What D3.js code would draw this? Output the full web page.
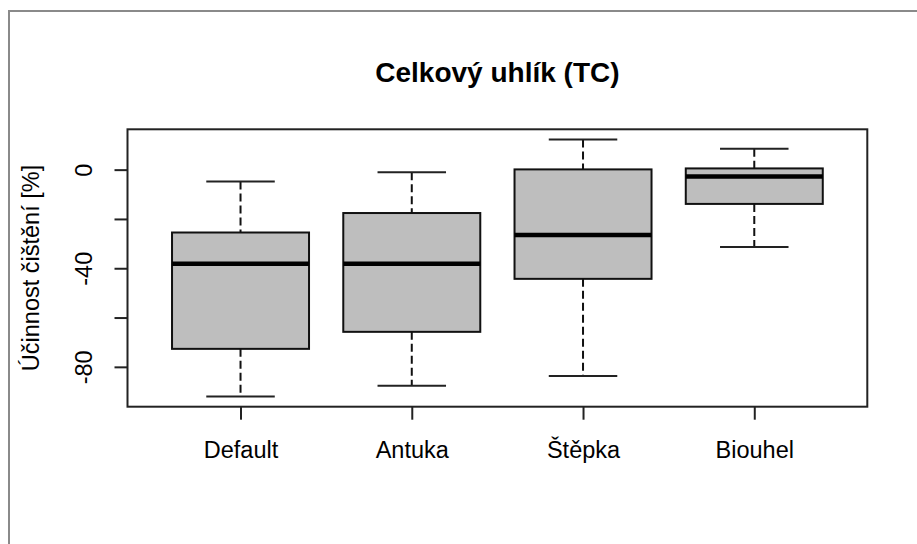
<!DOCTYPE html>
<html>
<head>
<meta charset="utf-8">
<script src="https://cdn.jsdelivr.net/npm/d3@7"></script>
<style>
  html, body { margin: 0; padding: 0; background: #fff; }
  svg { display: block; }
  text { font-family: "Liberation Sans", Arial, sans-serif; fill: #000; }
</style>
</head>
<body>
<svg id="chart" width="917" height="544"></svg>
<script>
// ---- data ----
const categories = ["Default", "Antuka", "Štěpka", "Biouhel"];
const whiskerLow  = [-92.0, -87.7, -83.7, -31.4];
const q1          = [-72.7, -65.8, -44.3, -13.9];
const medians     = [-38.2, -38.2, -26.5,  -2.8];
const q3          = [-25.5, -17.6,   0.1,   0.5];
const whiskerHigh = [ -4.8,  -1.1,  12.2,   8.5];
const yTicks      = [-80, -60, -40, -20, 0];
const yTickLabels = ["-80", "", "-40", "", "0"];
const titleText   = "Celkový uhlík (TC)";
const yTitleText  = "Účinnost čištění [%]";

const svg = d3.select("#chart");

// plot region
const L = 127.5, R = 867.3, T = 129.3, B = 406.7;

// outer figure frame (top and left only visible)
svg.append("path")
  .attr("d", "M9,544 L9,11 L917,11")
  .attr("fill", "none").attr("stroke", "#8a8a8a").attr("stroke-width", 2);

// scales (R style: 4% range extension)
const n = categories.length;
const xPad = 0.04 * n;
const x = d3.scaleLinear().domain([0.5 - xPad, n + 0.5 + xPad]).range([L, R]);
const yMin = d3.min(whiskerLow), yMax = d3.max(whiskerHigh);
const yPad = 0.04 * (yMax - yMin);
const y = d3.scaleLinear().domain([yMin - yPad, yMax + yPad]).range([B, T]);

const boxW = 0.8, capW = 0.4;
const data = categories.map((c, i) => ({
  c, i: i + 1, lo: whiskerLow[i], q1: q1[i], med: medians[i], q3: q3[i], hi: whiskerHigh[i]
}));

const g = svg.append("g");
const boxes = g.selectAll("g.box").data(data).join("g").attr("class", "box");

// whiskers (dashed)
boxes.append("line")
  .attr("x1", d => x(d.i)).attr("x2", d => x(d.i))
  .attr("y1", d => y(d.hi)).attr("y2", d => y(d.q3))
  .attr("stroke", "#111").attr("stroke-width", 2).attr("stroke-dasharray", "8,4");
boxes.append("line")
  .attr("x1", d => x(d.i)).attr("x2", d => x(d.i))
  .attr("y1", d => y(d.q1)).attr("y2", d => y(d.lo))
  .attr("stroke", "#111").attr("stroke-width", 2).attr("stroke-dasharray", "8,4");
// caps
boxes.append("line")
  .attr("x1", d => x(d.i - capW / 2)).attr("x2", d => x(d.i + capW / 2))
  .attr("y1", d => y(d.hi)).attr("y2", d => y(d.hi))
  .attr("stroke", "#222").attr("stroke-width", 2);
boxes.append("line")
  .attr("x1", d => x(d.i - capW / 2)).attr("x2", d => x(d.i + capW / 2))
  .attr("y1", d => y(d.lo)).attr("y2", d => y(d.lo))
  .attr("stroke", "#222").attr("stroke-width", 2);
// box
boxes.append("rect")
  .attr("x", d => x(d.i - boxW / 2))
  .attr("width", d => x(d.i + boxW / 2) - x(d.i - boxW / 2))
  .attr("y", d => y(d.q3))
  .attr("height", d => y(d.q1) - y(d.q3))
  .attr("fill", "#bebebe").attr("stroke", "#111").attr("stroke-width", 2);
// median
boxes.append("line")
  .attr("x1", d => x(d.i - boxW / 2)).attr("x2", d => x(d.i + boxW / 2))
  .attr("y1", d => y(d.med)).attr("y2", d => y(d.med))
  .attr("stroke", "#000").attr("stroke-width", 4.5);

// plot frame
svg.append("rect")
  .attr("x", L).attr("y", T).attr("width", R - L).attr("height", B - T)
  .attr("fill", "none").attr("stroke", "#222").attr("stroke-width", 2);

// y axis
const yAxis = svg.append("g")
  .attr("transform", `translate(${L},0)`)
  .call(d3.axisLeft(y).tickValues(yTicks).tickSize(13)
    .tickFormat((d, i) => yTickLabels[i]));
yAxis.select(".domain").remove();
yAxis.selectAll(".tick line").attr("stroke", "#222").attr("stroke-width", 2);
yAxis.selectAll(".tick text")
  .attr("x", null).attr("dy", null)
  .attr("text-anchor", "middle")
  .attr("transform", "translate(-35.5,0) rotate(-90)")
  .style("font-size", "23.5px").style("font-family", "'Liberation Sans', Arial, sans-serif")
  .attr("fill", "#000");

// x axis
const xAxis = svg.append("g")
  .attr("transform", `translate(0,${B})`)
  .call(d3.axisBottom(x).tickValues(d3.range(1, n + 1)).tickSize(13)
    .tickFormat(d => categories[d - 1]));
xAxis.select(".domain").remove();
xAxis.selectAll(".tick line").attr("stroke", "#222").attr("stroke-width", 2);
xAxis.selectAll(".tick text")
  .attr("y", 51.5).attr("dy", null)
  .style("font-size", "23.5px").style("font-family", "'Liberation Sans', Arial, sans-serif")
  .attr("fill", "#000");

// title
svg.append("text")
  .attr("x", (L + R) / 2).attr("y", 82)
  .attr("text-anchor", "middle")
  .style("font-size", "28px").style("font-weight", "bold")
  .text(titleText);

// y title
svg.append("text")
  .attr("transform", `translate(39,${(T + B) / 2}) rotate(-90)`)
  .attr("text-anchor", "middle")
  .style("font-size", "23.5px")
  .text(yTitleText);
</script>
</body>
</html>
